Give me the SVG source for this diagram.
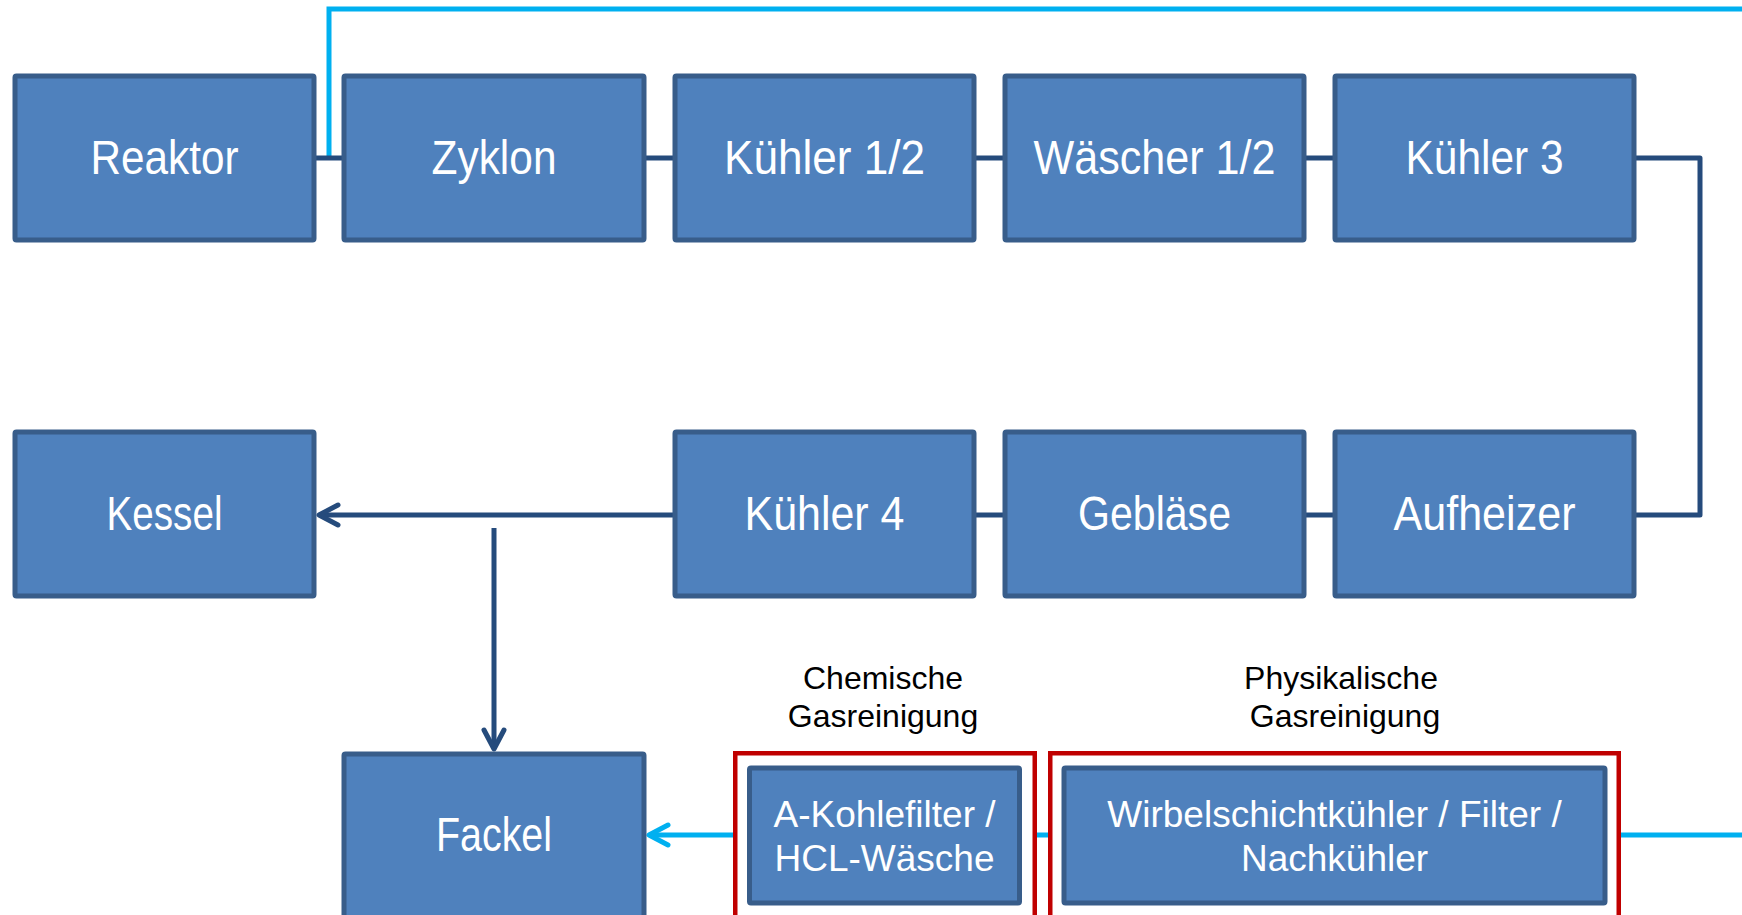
<svg xmlns="http://www.w3.org/2000/svg" width="1742" height="915" viewBox="0 0 1742 915">
<style>
.box{fill:#4F81BD;stroke:#385D8A;stroke-width:5;}
.red{fill:none;stroke:#C00000;stroke-width:4.5;}
.big{font-family:"Liberation Sans",Arial,sans-serif;font-size:48px;fill:#FFFFFF;text-anchor:middle;}
.mid{font-family:"Liberation Sans",Arial,sans-serif;font-size:37px;fill:#FFFFFF;text-anchor:middle;}
.lbl{font-family:"Liberation Sans",Arial,sans-serif;font-size:32px;fill:#000000;text-anchor:middle;}
.dark{fill:none;stroke:#254B7C;stroke-width:5;}
.cyan{fill:none;stroke:#00B0F0;stroke-width:5;}
</style>
<defs>
<marker id="arrDark" viewBox="-24 -14 28 28" refX="0" refY="0" markerWidth="28" markerHeight="28" markerUnits="userSpaceOnUse" orient="auto">
<path d="M-19,-10 L0,0 L-19,10" fill="none" stroke="#254B7C" stroke-width="5" stroke-linecap="round" stroke-linejoin="round"/>
</marker>
<marker id="arrCyan" viewBox="-24 -14 28 28" refX="0" refY="0" markerWidth="28" markerHeight="28" markerUnits="userSpaceOnUse" orient="auto">
<path d="M-19,-10 L0,0 L-19,10" fill="none" stroke="#00B0F0" stroke-width="5" stroke-linecap="round" stroke-linejoin="round"/>
</marker>
</defs>
<rect width="1742" height="915" fill="#FFFFFF"/>
<g id="connectors">
<path class="cyan" d="M329,160 V9 H1742"/>
<path class="dark" d="M316,158 H343"/>
<path class="dark" d="M646,158 H673"/>
<path class="dark" d="M976,158 H1003"/>
<path class="dark" d="M1306,158 H1333"/>
<path class="dark" d="M1636,158 H1700 V515 H1636" stroke-linejoin="round"/>
<path class="dark" d="M1306,515 H1333"/>
<path class="dark" d="M976,515 H1003"/>
<path class="dark" d="M673,515 H319" marker-end="url(#arrDark)"/>
<path class="dark" d="M494,528 V749" marker-end="url(#arrDark)"/>
<path class="cyan" d="M1742,835 H1621"/>
<path class="cyan" d="M1048,835 H1036"/>
<path class="cyan" d="M733,835 H649" marker-end="url(#arrCyan)"/>
</g>
<g id="node-reaktor"><rect class="box" x="15" y="76" width="299" height="164" rx="1.5"/><text class="big" x="164.5" y="174" textLength="148" lengthAdjust="spacingAndGlyphs">Reaktor</text></g>
<g id="node-zyklon"><rect class="box" x="344" y="76" width="300" height="164" rx="1.5"/><text class="big" x="494" y="174" textLength="125" lengthAdjust="spacingAndGlyphs">Zyklon</text></g>
<g id="node-kuehler12"><rect class="box" x="675" y="76" width="299" height="164" rx="1.5"/><text class="big" x="824.5" y="174" textLength="201" lengthAdjust="spacingAndGlyphs">Kühler 1/2</text></g>
<g id="node-waescher12"><rect class="box" x="1005" y="76" width="299" height="164" rx="1.5"/><text class="big" x="1154.5" y="174" textLength="242" lengthAdjust="spacingAndGlyphs">Wäscher 1/2</text></g>
<g id="node-kuehler3"><rect class="box" x="1335" y="76" width="299" height="164" rx="1.5"/><text class="big" x="1484.5" y="174" textLength="158" lengthAdjust="spacingAndGlyphs">Kühler 3</text></g>
<g id="node-kessel"><rect class="box" x="15" y="432" width="299" height="164" rx="1.5"/><text class="big" x="164.5" y="530" textLength="116" lengthAdjust="spacingAndGlyphs">Kessel</text></g>
<g id="node-kuehler4"><rect class="box" x="675" y="432" width="299" height="164" rx="1.5"/><text class="big" x="824.5" y="530" textLength="160" lengthAdjust="spacingAndGlyphs">Kühler 4</text></g>
<g id="node-geblaese"><rect class="box" x="1005" y="432" width="299" height="164" rx="1.5"/><text class="big" x="1154.5" y="530" textLength="153" lengthAdjust="spacingAndGlyphs">Gebläse</text></g>
<g id="node-aufheizer"><rect class="box" x="1335" y="432" width="299" height="164" rx="1.5"/><text class="big" x="1484.5" y="530" textLength="182" lengthAdjust="spacingAndGlyphs">Aufheizer</text></g>
<g id="node-fackel"><rect class="box" x="344" y="754" width="300" height="180" rx="1.5"/><text class="big" x="494" y="851" textLength="116" lengthAdjust="spacingAndGlyphs">Fackel</text></g>
<g id="group-chemisch">
<rect class="red" x="735.25" y="753.25" width="299.5" height="200"/>
<text class="lbl" x="883" y="689">Chemische</text>
<text class="lbl" x="883" y="727">Gasreinigung</text>
</g>
<g id="node-akohle"><rect class="box" x="749.5" y="768" width="270" height="135" rx="1.5"/><text class="mid" x="884.5" y="827">A-Kohlefilter /</text><text class="mid" x="884.5" y="871">HCL-Wäsche</text></g>
<g id="group-physikalisch">
<rect class="red" x="1050.25" y="753.25" width="568.5" height="200"/>
<text class="lbl" x="1341" y="689">Physikalische</text>
<text class="lbl" x="1345" y="727">Gasreinigung</text>
</g>
<g id="node-wirbel"><rect class="box" x="1064" y="768" width="541" height="135" rx="1.5"/><text class="mid" x="1334.5" y="827">Wirbelschichtkühler / Filter /</text><text class="mid" x="1334.5" y="871">Nachkühler</text></g>
</svg>
